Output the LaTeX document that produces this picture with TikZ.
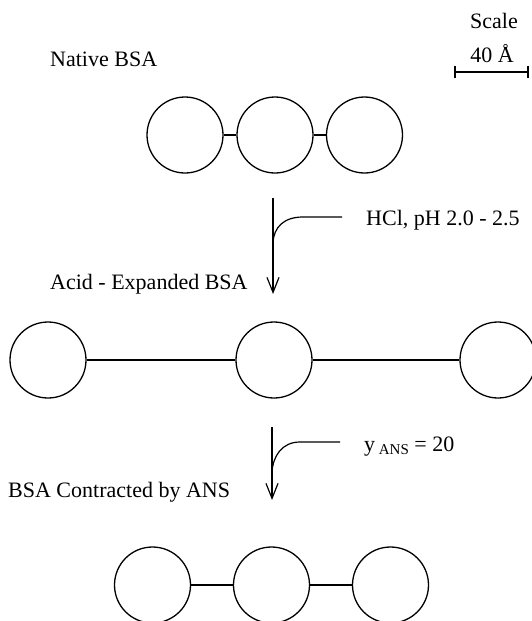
\documentclass[tikz,border=0pt]{standalone}
\usepackage{fontspec}
\setmainfont{Liberation Serif}
\usetikzlibrary{arrows.meta}
\begin{document}
\begin{tikzpicture}[x=1pt,y=-1pt,
  bead/.style={circle,draw,line width=1.3pt,minimum size=76pt,inner sep=0pt},
  link/.style={line width=1.1pt},
  lab/.style={anchor=base west,inner sep=0pt,font=\fontsize{22}{24}\selectfont},
  flow/.style={line width=1.2pt,-{Straight Barb[length=15pt,width=12pt,line width=1.2pt]}},
  hook/.style={line width=1.2pt}]
\useasboundingbox (0,0) rectangle (532,621);
% scale
\node[lab,anchor=base] (scl) at (494,28) {Scale};
\node[lab,anchor=base] (ang) at (492,62) {40 Å};
\coordinate (sa) at (455,72);
\coordinate (sb) at (528,72);
\draw[link] (sa) -- (sb);
\draw[link] ([yshift=-6pt]sa) -- ([yshift=6pt]sa);
\draw[link] ([yshift=-6pt]sb) -- ([yshift=6pt]sb);
% native
\node[lab] (t1) at (50,66) {Native BSA};
\node[bead] (a1) at (185,135) {};
\node[bead] (a2) at (275,135) {};
\node[bead] (a3) at (364.5,135) {};
\draw[link] (a1) -- (a2);
\draw[link] (a2) -- (a3);
% arrow 1
\coordinate (p1) at (273,198);
\coordinate (q1) at (273,294);
\coordinate (j1) at (273,242);
\coordinate (h1) at (303,217);
\coordinate (e1) at (342,217);
\draw[flow] (p1) -- (q1);
\draw[hook] (j1) .. controls (274,228) and (283,217) .. (h1) -- (e1);
\node[lab] (hcl) at (366,225) {HCl, pH 2.0 - 2.5};
% expanded
\node[lab] (t2) at (50,289) {Acid - Expanded BSA};
\node[bead] (b1) at (48,360) {};
\node[bead] (b2) at (274,360) {};
\node[bead] (b3) at (498,360) {};
\draw[link] (b1) -- (b2);
\draw[link] (b2) -- (b3);
% arrow 2
\coordinate (p2) at (272,427);
\coordinate (q2) at (272,500);
\coordinate (j2) at (272,472);
\coordinate (h2) at (300,442);
\coordinate (e2) at (340,442);
\draw[flow] (p2) -- (q2);
\draw[hook] (j2) .. controls (273,456) and (282,442) .. (h2) -- (e2);
\node[lab] (yans) at (364,451) {y\,\raisebox{-3pt}{\fontsize{15}{15}\selectfont ANS} = 20};
% contracted
\node[lab] (t3) at (8,497) {BSA Contracted by ANS};
\node[bead] (c1) at (152.5,585) {};
\node[bead] (c2) at (271.5,585) {};
\node[bead] (c3) at (390.5,585) {};
\draw[link] (c1) -- (c2);
\draw[link] (c2) -- (c3);
\end{tikzpicture}
\end{document}
